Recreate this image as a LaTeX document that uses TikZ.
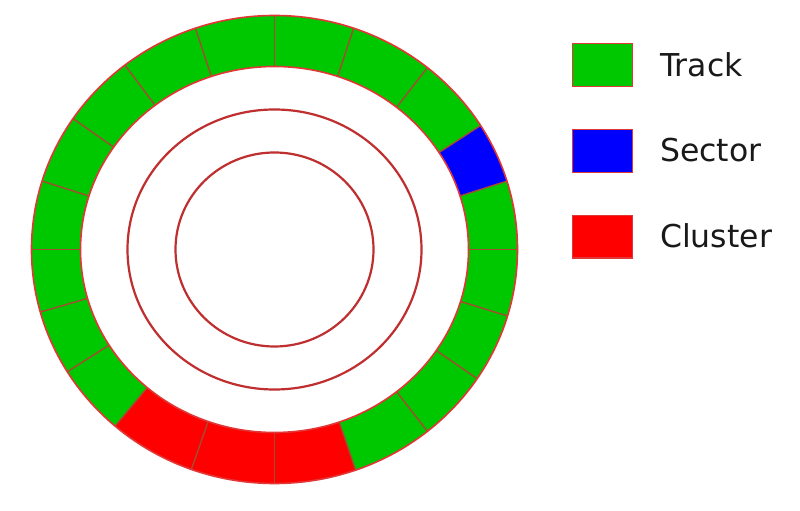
\documentclass[tikz,border=0pt]{standalone}
\usepackage{fontspec}
\setmainfont{DejaVu Sans}
\definecolor{trackgreen}{RGB}{0,200,0}
\definecolor{sectorblue}{RGB}{0,0,255}
\definecolor{clusterred}{RGB}{255,0,0}
\definecolor{edgered}{RGB}{225,55,55}
\definecolor{segline}{RGB}{165,75,50}
\definecolor{txt}{RGB}{25,25,25}
\tikzset{
  ringedge/.style={draw=edgered, line width=1.6pt},
  circleline/.style={draw=edgered!85!black, line width=2.2pt},
  sepline/.style={draw=segline, line width=1.4pt},
  legbox/.style={draw=edgered, line width=1.4pt, minimum width=60pt, minimum height=42.5pt, inner sep=0pt},
  legtext/.style={text=txt, font=\fontsize{31.5}{36}\selectfont, inner sep=0pt, anchor=base west}
}
\begin{document}
\begin{tikzpicture}[x=1pt,y=1pt]
\useasboundingbox (0,0) rectangle (800,511);
\fill[white] (0,0) rectangle (800,511);
\begin{scope}[shift={(274.5,261.5)}]
  % segments
  \foreach \a/\b/\col in {0/17/trackgreen, 17/32/sectorblue, 32/51/trackgreen, 51/71/trackgreen,
      71/90/trackgreen, 90/109/trackgreen, 109/128/trackgreen, 128/146/trackgreen,
      146/163/trackgreen, 163/180/trackgreen, 180/195.5/trackgreen, 195.5/211.5/trackgreen,
      211.5/229/trackgreen, 229/250/clusterred, 250/270/clusterred, 270/289.5/clusterred,
      289.5/309/trackgreen, 309/326.5/trackgreen, 326.5/343.5/trackgreen, 343.5/360/trackgreen} {
    \fill[\col] (\a:243 and 234) arc[start angle=\a, end angle=\b, x radius=243, y radius=234]
      -- (\b:194 and 183) arc[start angle=\b, end angle=\a, x radius=194, y radius=183] -- cycle;
  }
  \foreach \a in {0,17,32,51,71,90,109,128,146,163,180,195.5,211.5,229,250,270,289.5,309,326.5,343.5} {
    \draw[sepline] (\a:194 and 183) -- (\a:243 and 234);
  }
  \draw[ringedge] (0,0) ellipse [x radius=243, y radius=234];
  \draw[ringedge] (0,0) ellipse [x radius=194, y radius=183];
  \draw[circleline] (0,0) ellipse [x radius=147, y radius=140];
  \draw[circleline] (0,0) ellipse [x radius=99, y radius=97];
\end{scope}
% legend
\node[legbox, fill=trackgreen] (ktrack) at (602.7,446) {};
\node[legbox, fill=sectorblue] (ksector) at (602.7,360) {};
\node[legbox, fill=clusterred] (kcluster) at (602.7,274.3) {};
\node[legtext] (ltrack) at (660,434.3) {Track};
\node[legtext] (lsector) at (660,349) {Sector};
\node[legtext] (lcluster) at (660,263.5) {Cluster};
\end{tikzpicture}
\end{document}
